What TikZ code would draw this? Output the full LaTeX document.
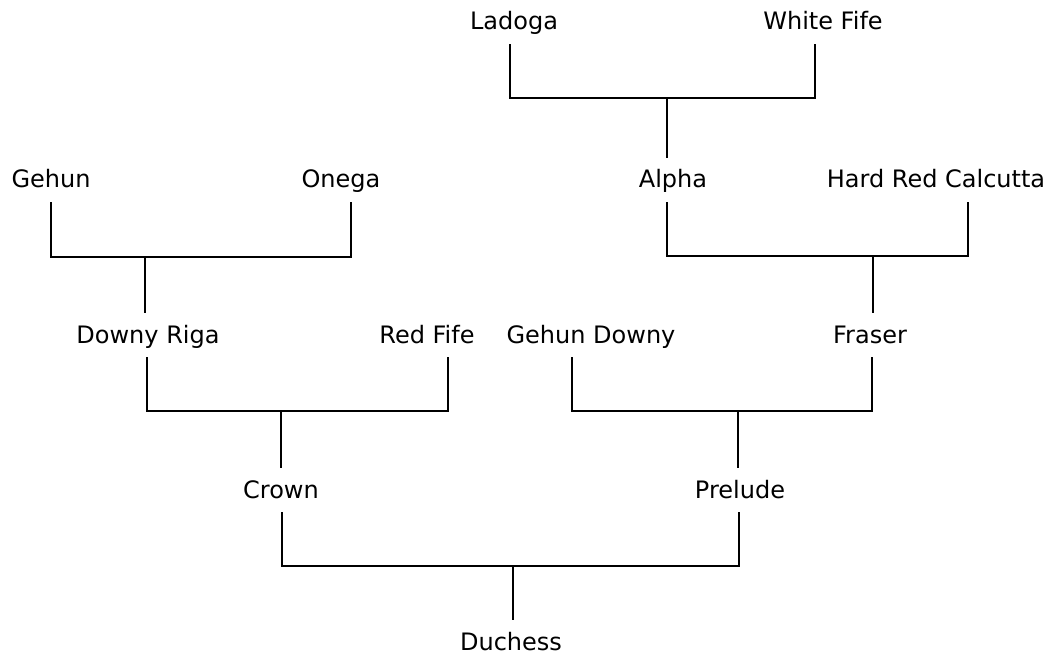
\documentclass[tikz,border=0pt]{standalone}
\usepackage{fontspec}
\setmainfont{DejaVu Sans}

\begin{document}
\begin{tikzpicture}[x=1pt,y=-1pt]
\tikzset{every node/.style={inner sep=0pt, anchor=base, text height=17pt, text depth=0pt,
  font=\fontsize{24}{28}\selectfont}}
\tikzset{cross/.style={line width=2.3pt, shorten <=14pt, shorten >=14pt}}
\tikzset{descent/.style={line width=2.3pt, shorten >=13pt}}
\useasboundingbox (0,0) rectangle (1054,655);
% varieties
\node (ladoga) at (514,30) {Ladoga};
\node (whitefife) at (823,30) {White Fife};
\node (gehun) at (51,188) {Gehun};
\node (onega) at (341,188) {Onega};
\node (alpha) at (673,188) {Alpha};
\node (hrc) at (936,188) {Hard Red Calcutta};
\node (downyriga) at (148,343) {Downy Riga};
\node (redfife) at (427,343) {Red Fife};
\node (gehundowny) at (591,343) {Gehun Downy};
\node (fraser) at (870,343) {Fraser};
\node (crown) at (281,498) {Crown};
\node (prelude) at (740,498) {Prelude};
\node (duchess) at (511,650) {Duchess};
% crossing points
\coordinate (j1) at (667,98);
\coordinate (j2) at (145,257);
\coordinate (j3) at (873,256);
\coordinate (j4) at (281,411);
\coordinate (j5) at (738,411);
\coordinate (j6) at (513,566);
% crosses
\draw [cross] ([xshift=-4pt]ladoga.south) |- (j1) -| ([xshift=-8pt]whitefife.south);
\draw [descent] (j1) -- (j1 |- alpha.north);
\draw [cross] (gehun.south) |- (j2) -| ([xshift=10pt]onega.south);
\draw [descent] (j2) -- (j2 |- downyriga.north);
\draw [cross] ([xshift=-6pt]alpha.south) |- (j3) -| ([xshift=32pt]hrc.south);
\draw [descent] (j3) -- (j3 |- fraser.north);
\draw [cross] ([xshift=-1pt]downyriga.south) |- (j4) -| ([xshift=21pt]redfife.south);
\draw [descent] (j4) -- (j4 |- crown.north);
\draw [cross] ([xshift=-19pt]gehundowny.south) |- (j5) -| ([xshift=2pt]fraser.south);
\draw [descent] (j5) -- (j5 |- prelude.north);
\draw [cross] ([xshift=1pt]crown.south) |- (j6) -| ([xshift=-1pt]prelude.south);
\draw [descent] (j6) -- (j6 |- duchess.north);
\end{tikzpicture}
\end{document}
